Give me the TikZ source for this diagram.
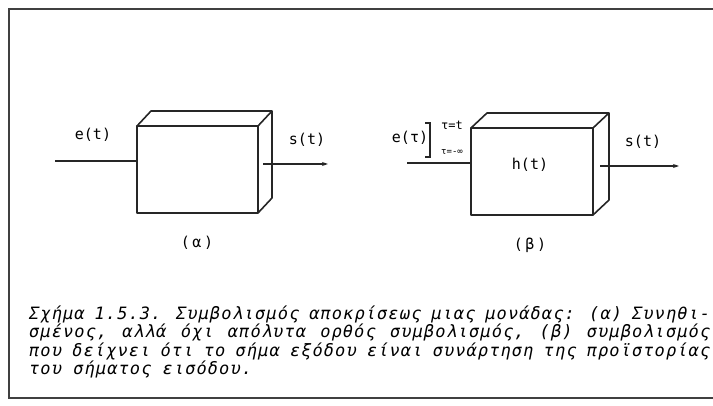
\documentclass[tikz,border=0pt]{standalone}
\usepackage{fontspec}
\setmainfont{DejaVu Sans Mono}
\newfontfamily\capfont[LetterSpace=6.3]{DejaVu Sans Mono Oblique}
\usetikzlibrary{arrows.meta}
\tikzset{
  edge/.style={line width=1.6pt, draw=black!85, line join=round},
  front/.style={edge, rectangle, inner sep=0pt, outer sep=0pt, fill=white},
  sig/.style={line width=1.2pt, draw=black!85},
  sigarrow/.style={sig, -{Stealth[length=6pt,width=4pt]}},
  lbl/.style={inner sep=0pt, font=\fontsize{15}{15}\selectfont},
  small/.style={inner sep=0pt, font=\fontsize{12}{12}\selectfont},
  tiny/.style={inner sep=0pt, font=\fontsize{9}{9}\selectfont},
  capline/.style={inner sep=0pt, anchor=base west, font=\capfont\fontsize{17}{17}\selectfont},
  frame/.style={line width=1.8pt, draw=black!75}
}
\newcommand{\jline}[1]{{\spaceskip=\fontdimen2\font plus 1fil minus 5pt\makebox[681pt][s]{#1}}}
\begin{document}
\begin{tikzpicture}[x=1pt,y=-1pt]
\useasboundingbox (0,0) rectangle (713,406);
\draw[frame] (713,9) -- (9,9) -- (9,398) -- (713,398);

% ---- box (alpha)
\node[front, minimum width=121pt, minimum height=87pt] (boxa) at (197.5,169.5) {};
\draw[edge] (boxa.north west) -- ++(14,-15) -- ++(121,0) -- ++(0,87) -- (boxa.south east);
\draw[edge] (boxa.north east) -- ++(14,-15);
\coordinate (ina) at (55,161);
\draw[sig] (ina) -- (ina -| boxa.west);
\coordinate (oa1) at (263,164);
\coordinate (oa2) at (328,164);
\draw[sigarrow] (oa1) -- (oa2);
\node[lbl] (ea) at (93,135) {e(t)};
\node[lbl] (sa) at (307,140) {s(t)};
\node[lbl] (capa) at (197,243) {(\,α\,)};

% ---- box (beta)
\node[front, minimum width=122pt, minimum height=87pt] (boxb) at (532,171.5) {};
\draw[edge] (boxb.north west) -- ++(16,-15) -- ++(122,0) -- ++(0,87) -- (boxb.south east);
\draw[edge] (boxb.north east) -- ++(16,-15);
\node[lbl] (hb) at (530,165) {h(t)};
\coordinate (inb) at (407,163);
\draw[sig] (inb) -- (inb -| boxb.west);
\coordinate (ob1) at (600,166);
\coordinate (ob2) at (679,166);
\draw[sigarrow] (ob1) -- (ob2);
\node[lbl] (eb) at (410,138) {e(τ)};
\coordinate (bt) at (430,123);
\coordinate (bb) at (430,157);
\draw[sig] ([xshift=-5pt]bt) -- (bt) -- (bb) -- ([xshift=-5pt]bb);
\node[small] (tu) at (452,125) {τ=t};
\node[tiny] (tl) at (452,152) {τ=-∞};
\node[lbl] (sb) at (643,142) {s(t)};
\node[lbl] (capb) at (530,245) {(\,β\,)};

% ---- caption
\node[capline] (c1) at (29,320) {\jline{Σχήμα 1.5.3. Συμβολισμός αποκρίσεως μιας μονάδας: (α) Συνηθι-}};
\node[capline] (c2) at (29,338) {\jline{σμένος, αλλά όχι απόλυτα ορθός συμβολισμός, (β) συμβολισμός}};
\node[capline] (c3) at (29,356) {\jline{που δείχνει ότι το σήμα εξόδου είναι συνάρτηση της προϊστορίας}};
\node[capline] (c4) at (29,374) {του σήματος εισόδου.};
\end{tikzpicture}
\end{document}
